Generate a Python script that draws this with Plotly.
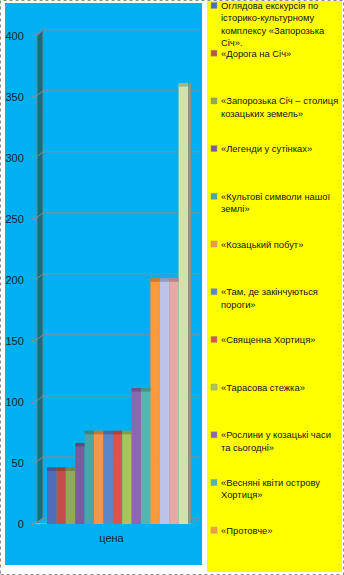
import plotly.graph_objects as go

# --- data -------------------------------------------------------------
category = ["цена"]

tour_names = [
    "Оглядова екскурсія по історико-культурному комплексу «Запорозька Січ».",
    "«Дорога на Січ»",
    "«Запорозька Січ – столиця козацьких земель»",
    "«Легенди у сутінках»",
    "«Культові символи нашої землі»",
    "«Козацький побут»",
    "«Там, де закінчуються пороги»",
    "«Священна Хортиця»",
    "«Тарасова стежка»",
    "«Рослини у козацькі часи та сьогодні»",
    "«Весняні квіти острову Хортиця»",
    "«Протовче»",
    "Екскурсія 13",
    "Екскурсія 14",
    "Екскурсія 15",
]

prices = [45, 45, 45, 65, 75, 75, 75, 75, 75, 110, 110, 200, 200, 200, 360]

# wrapped legend text (only the first twelve entries fit in the legend box)
legend_lines = [
    ["Оглядова екскурсія по", "історико-культурному", "комплексу «Запорозька", "Січ»."],
    ["«Дорога на Січ»"],
    ["«Запорозька Січ – столиця", "козацьких земель»"],
    ["«Легенди у сутінках»"],
    ["«Культові символи нашої", "землі»"],
    ["«Козацький побут»"],
    ["«Там, де закінчуються", "пороги»"],
    ["«Священна Хортиця»"],
    ["«Тарасова стежка»"],
    ["«Рослини у козацькі часи", "та сьогодні»"],
    ["«Весняні квіти острову", "Хортиця»"],
    ["«Протовче»"],
]

y_ticks = [0, 50, 100, 150, 200, 250, 300, 350, 400]

bar_colors = [
    "#4F6DB8", "#C0504D", "#8FA955", "#7E5A9E", "#4BA5A8",
    "#F79646", "#5B86C8", "#D9534F", "#A8C45A", "#8C68B0",
    "#52B6B0", "#FF9A3C", "#BDC3E8", "#E8A8A4", "#D3E2A8",
]

# --- geometry of the page ---------------------------------------------
W, H = 344, 575
L, R, T, B = 35, 144, 20, 51          # margins -> plot box 35..200 x 20..524
PW, PH = W - L - R, H - T - B
Y_MAX = 413.1
BARGAP = 0.1455
DEPTH_X = 8                            # 3-D depth offset, px
DEPTH_Y = 5                            # 3-D depth offset, data units
FONT = "Liberation Sans"


def px_x(p):
    return (p - L) / PW


def px_y(p):
    return (H - B - p) / PH


def darker(hex_color, f=0.72):
    h = hex_color.lstrip("#")
    r, g, b = (int(h[i:i + 2], 16) for i in (0, 2, 4))
    return "rgb({},{},{})".format(int(r * f), int(g * f), int(b * f))


fig = go.Figure()
for name, value, color in zip(tour_names, prices, bar_colors):
    fig.add_trace(go.Bar(
        x=category, y=[value], name=name, marker_color=color,
        marker_line_width=0, showlegend=False,
    ))

shapes = []

# page background, plot panel and legend panel
shapes.append(dict(type="rect", xref="paper", yref="paper",
                   x0=px_x(5), x1=px_x(202), y0=px_y(565), y1=px_y(3),
                   fillcolor="#00B0F0", line_width=0, layer="below"))
shapes.append(dict(type="rect", xref="paper", yref="paper",
                   x0=px_x(207), x1=px_x(342), y0=px_y(572), y1=px_y(1),
                   fillcolor="#FFFF00", line_width=0, layer="below"))
shapes.append(dict(type="rect", xref="paper", yref="paper",
                   x0=px_x(0.5), x1=px_x(343.5), y0=px_y(574.5), y1=px_y(0.5),
                   line=dict(color="#8a8a8a", width=1, dash="dot"), layer="below"))

# left side wall of the 3-D box
xa, xb = px_x(37), px_x(37 + DEPTH_X - 2)
shapes.append(dict(type="path", xref="paper", yref="y",
                   path=f"M {xa},0 L {xb},{DEPTH_Y} L {xb},{y_ticks[-1] + DEPTH_Y} "
                        f"L {xa},{y_ticks[-1]} Z",
                   fillcolor="#11707F", line=dict(color="#6f8790", width=1),
                   layer="below"))

# back-wall gridlines with their diagonal run to the front ticks
x_front, x_back, x_end = px_x(35), px_x(35 + DEPTH_X), px_x(200)
for v in y_ticks[1:]:
    shapes.append(dict(type="path", xref="paper", yref="y",
                       path=f"M {x_front},{v} L {x_back},{v + DEPTH_Y} L {x_end},{v + DEPTH_Y}",
                       line=dict(color="#858d94", width=1), layer="below"))

# floor
x_floor_r = px_x(191)
shapes.append(dict(type="path", xref="paper", yref="y",
                   path=f"M {x_front},0 L {x_back},{DEPTH_Y} L {x_end},{DEPTH_Y} L {x_floor_r},0",
                   line=dict(color="#858d94", width=1), layer="below"))
shapes.append(dict(type="line", xref="paper", yref="y",
                   x0=x_front, x1=x_floor_r, y0=0, y1=0,
                   line=dict(color="#8fd6ee", width=1), layer="below"))

# bar caps and the visible side face of the last bar
n = len(prices)
bw = (1 - BARGAP) / n
for i, (value, color) in enumerate(zip(prices, bar_colors)):
    x0 = -0.5 + BARGAP / 2 + i * bw
    shapes.append(dict(type="rect", xref="x", yref="y",
                       x0=x0, x1=x0 + bw, y0=value - 1.5, y1=value + 1.5,
                       fillcolor=darker(color, 0.8), line_width=0, layer="above"))
x_last = -0.5 + BARGAP / 2 + n * bw
d = 3 / PW
shapes.append(dict(type="path", xref="x", yref="y",
                   path=f"M {x_last},0 L {x_last + d},2 L {x_last + d},{prices[-1] + 2} "
                        f"L {x_last},{prices[-1]} Z",
                   fillcolor="#8e9486", line_width=0, layer="above"))

# hand-laid legend
annotations = []
first_y, step, line_h = 5.5, 47.7, 12.4
for i, lines in enumerate(legend_lines):
    y0 = first_y + i * step
    shapes.append(dict(type="rect", xref="paper", yref="paper",
                       x0=px_x(211), x1=px_x(217), y0=px_y(y0 + 3), y1=px_y(y0 - 3),
                       fillcolor=bar_colors[i], line=dict(color="#9a9a9a", width=0.5)))
    for k, txt in enumerate(lines):
        annotations.append(dict(xref="paper", yref="paper", x=px_x(219),
                                y=px_y(y0 + k * line_h), text=txt, showarrow=False,
                                xanchor="left", yanchor="middle",
                                font=dict(family=FONT, size=9.4, color="#141414")))

fig.update_layout(
    width=W, height=H,
    margin=dict(l=L, r=R, t=T, b=B, pad=0, autoexpand=False),
    paper_bgcolor="white", plot_bgcolor="rgba(0,0,0,0)",
    barmode="group", bargap=BARGAP, bargroupgap=0,
    showlegend=False,
    shapes=shapes, annotations=annotations,
    xaxis=dict(type="category", showgrid=False, showline=False, zeroline=False,
               automargin=False,
               ticks="", tickfont=dict(family=FONT, size=11, color="#102535"),
               ticklabelshift=-6, ticklabelstandoff=6, fixedrange=True),
    yaxis=dict(range=[0, Y_MAX], tickvals=y_ticks, showgrid=False, zeroline=False,
               automargin=False,
               showline=False, ticks="outside", ticklen=3, tickcolor="#858d94",
               tickfont=dict(family=FONT, size=11, color="#102535"),
               ticklabelstandoff=5, fixedrange=True),
)

fig.write_html("out.html")
